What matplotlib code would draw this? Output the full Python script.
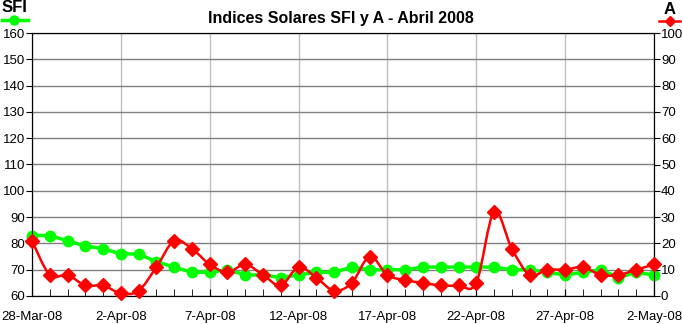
import numpy as np
import matplotlib
matplotlib.use("Agg")
import matplotlib.pyplot as plt
import matplotlib.dates as mdates
from matplotlib.path import Path
from matplotlib.patches import PathPatch
from matplotlib.lines import Line2D
import datetime as dt

plt.rcParams['font.family'] = ['Liberation Sans', 'DejaVu Sans']

# daily values, 28-Mar-08 .. 2-May-08
start = dt.date(2008, 3, 28)
dates = [start + dt.timedelta(days=i) for i in range(36)]
sfi = [83, 83, 81, 79, 78, 76, 76, 73, 71, 69, 69, 70,
       68, 68, 67, 68, 69, 69, 71, 70, 70, 70, 71, 71,
       71, 71, 71, 70, 70, 69, 68, 69, 70, 67, 69, 68]
a_idx = [21, 8, 8, 4, 4, 1, 2, 11, 21, 18, 12, 9,
         12, 8, 4, 11, 7, 2, 5, 15, 8, 6, 5, 4,
         4, 5, 32, 18, 8, 10, 10, 11, 8, 8, 10, 12]
xticks = [start + dt.timedelta(days=5 * i) for i in range(8)]

x = mdates.date2num(dates)

fig = plt.figure(figsize=(6.82, 3.24), dpi=100)
ax = fig.add_axes([32 / 682, 28 / 324, 622 / 682, 263 / 324])
ax2 = ax.twinx()

ax.set_xlim(x[0], x[-1])
ax.set_ylim(60, 160)
ax2.set_ylim(0, 100)
ax.set_yticks(np.arange(60, 161, 10))
ax2.set_yticks(np.arange(0, 101, 10))
ax.set_xticks(mdates.date2num(xticks))
ax.set_xticks(x, minor=True)
ax.xaxis.set_major_formatter(mdates.DateFormatter('%-d-%b-%y'))

ax.grid(axis='y', color='#808080', lw=1)
ax.grid(axis='x', color='#c0c0c0', lw=1)
ax.set_axisbelow(True)

for s in ax.spines.values():
    s.set_color('black')
for s in ax2.spines.values():
    s.set_color('black')

ax.tick_params(axis='y', direction='out', length=4, labelsize=9.5, pad=1)
ax2.tick_params(axis='y', direction='out', length=4, labelsize=9.5, pad=1)
ax.tick_params(axis='x', which='both', direction='in', length=5, labelsize=9.5, pad=11)

# SFI line
ax.plot(x, sfi, color='#00ff00', lw=2.5, marker='o', ms=7.5,
        markeredgecolor='#00ff00', zorder=3, clip_on=False)

# A line, smoothed with cubic Bezier segments
pts = np.column_stack([x, a_idx]).astype(float)
verts = [tuple(pts[0])]
codes = [Path.MOVETO]
n = len(pts)
for i in range(n - 1):
    p0 = pts[i - 1] if i > 0 else pts[i]
    p1 = pts[i]
    p2 = pts[i + 1]
    p3 = pts[i + 2] if i + 2 < n else pts[i + 1]
    c1 = p1 + (p2 - p0) / 6
    c2 = p2 - (p3 - p1) / 6
    verts += [tuple(c1), tuple(c2), tuple(p2)]
    codes += [Path.CURVE4] * 3
ax2.add_patch(PathPatch(Path(verts, codes), fill=False, edgecolor='#ff0000',
                        lw=1.8, zorder=3))
ax2.plot(x, a_idx, ls='none', marker='D', ms=7, color='#ff0000', zorder=4,
         clip_on=False)

fig.text(0.5, 1 - 18 / 324, 'Indices Solares SFI y A - Abril 2008',
         ha='center', va='center', fontsize=11.5, fontweight='bold')
fig.text(2 / 682, 1 - 8 / 324, 'SFI', ha='left', va='center',
         fontsize=12, fontweight='bold')
fig.text(670 / 682, 1 - 9 / 324, 'A', ha='center', va='center',
         fontsize=12, fontweight='bold')
fig.add_artist(Line2D([2 / 682, 28 / 682], [1 - 20 / 324] * 2,
                      transform=fig.transFigure, color='#00ff00', lw=2.5))
fig.add_artist(Line2D([14 / 682], [1 - 20 / 324], transform=fig.transFigure,
                      marker='o', ms=6.5, color='#00ff00'))
fig.add_artist(Line2D([659 / 682, 680 / 682], [1 - 21 / 324] * 2,
                      transform=fig.transFigure, color='#ff0000', lw=1.8))
fig.add_artist(Line2D([670 / 682], [1 - 21 / 324], transform=fig.transFigure,
                      marker='D', ms=5.5, color='#ff0000'))

fig.savefig('out.png', dpi=100)
